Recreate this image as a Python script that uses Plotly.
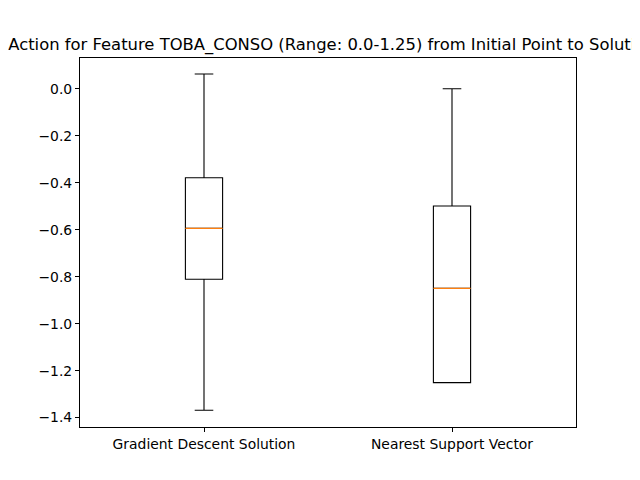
import plotly.graph_objects as go

categories = ["Gradient Descent Solution", "Nearest Support Vector"]
positions = [1, 2]
lower_whisker = [-1.369, -1.251]
q1_vals = [-0.811, -1.251]
median_vals = [-0.594, -0.850]
q3_vals = [-0.379, -0.499]
upper_whisker = [0.063, 0.0]
y_ticks = [0.0, -0.2, -0.4, -0.6, -0.8, -1.0, -1.2, -1.4]

box_w = 0.15

fig = go.Figure()
for i, name in enumerate(categories):
    fig.add_trace(go.Box(
        x=[positions[i]], q1=[q1_vals[i]], median=[median_vals[i]], q3=[q3_vals[i]],
        lowerfence=[lower_whisker[i]], upperfence=[upper_whisker[i]],
        width=box_w, whiskerwidth=0.5, boxpoints=False,
        line=dict(color="black", width=1.1), fillcolor="rgba(255,255,255,0)",
        name=name, showlegend=False, hoverinfo="skip",
    ))
    fig.add_trace(go.Scatter(
        x=[positions[i] - box_w / 2, positions[i] + box_w / 2],
        y=[median_vals[i], median_vals[i]],
        mode="lines", line=dict(color="#ff7f0e", width=1.3),
        showlegend=False, hoverinfo="skip",
    ))

font_family = "DejaVu Sans"
# page body has an 8px default offset; margins compensate for it
fig.update_layout(
    width=640, height=480,
    margin=dict(l=72, r=72, t=50, b=61),
    paper_bgcolor="white", plot_bgcolor="white",
    font=dict(family=font_family, color="black", size=13.9),
    title=dict(text="Action for Feature TOBA_CONSO (Range: 0.0-1.25) from Initial Point to Solution",
               x=0.5 + 4 / 496, xref="paper", xanchor="center",
               y=1 - 36 / 480, yref="container", yanchor="middle",
               font=dict(family=font_family, size=16.4, color="black")),
)
fig.update_xaxes(range=[0.5, 2.5], tickvals=positions, ticktext=categories,
                 showgrid=False, zeroline=False, showline=True, mirror=True,
                 linecolor="black", linewidth=1.1, ticks="outside", ticklen=4,
                 tickcolor="black", tickwidth=1.1)
fig.update_yaxes(range=[-1.440, 0.131], tickvals=y_ticks,
                 ticktext=[f"{v:.1f}".replace("-", "\u2212") for v in y_ticks],
                 showgrid=False, zeroline=False, showline=True, mirror=True,
                 linecolor="black", linewidth=1.1, ticks="outside", ticklen=4,
                 tickcolor="black", tickwidth=1.1)

fig.write_html("out.html")
